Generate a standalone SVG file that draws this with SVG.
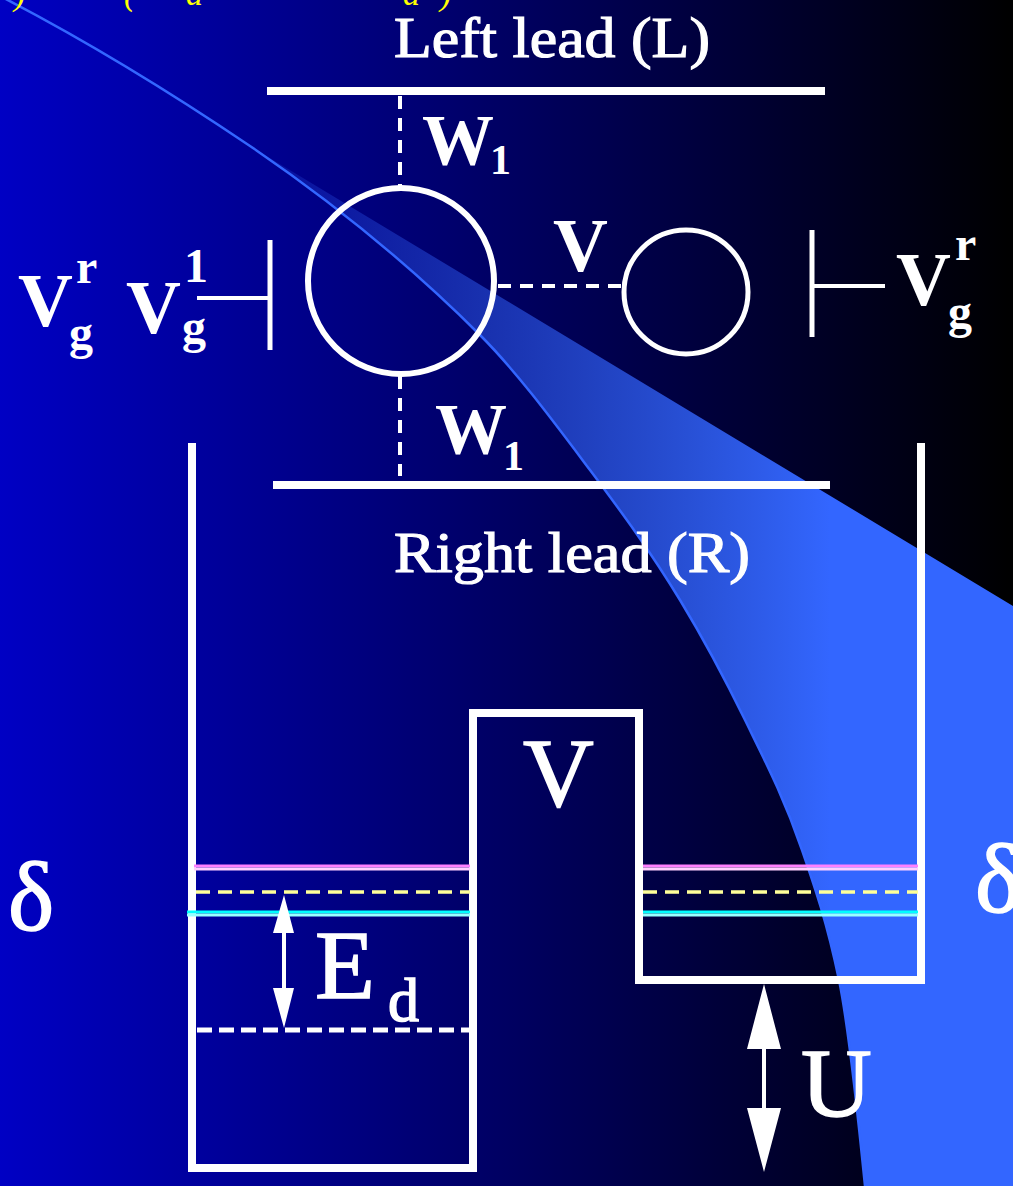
<svg xmlns="http://www.w3.org/2000/svg" width="1013" height="1186" viewBox="0 0 1013 1186">
<defs>
<linearGradient id="bg" x1="0" y1="0" x2="1" y2="0"><stop offset="0" stop-color="#0000c4"/><stop offset="1" stop-color="#000000"/></linearGradient>
<linearGradient id="wedge" gradientUnits="userSpaceOnUse" x1="250" y1="0" x2="830" y2="0"><stop offset="0" stop-color="#3366ff" stop-opacity="0.12"/><stop offset="1" stop-color="#3366ff"/></linearGradient>
</defs>
<style>
.t{font-family:"Liberation Serif",serif;fill:#fff;font-weight:bold}
.n{font-family:"Liberation Serif",serif;fill:#fff;stroke:#fff;stroke-width:1.500}
.h{font-family:"Liberation Serif",serif;fill:#fff;stroke:#fff;stroke-width:1.200}
.y{font-family:"Liberation Serif",serif;fill:#ff0;font-style:italic;font-size:34px}
.l{stroke:#fff;fill:none}
.d{stroke:#fff;fill:none;stroke-dasharray:13 9}
.a{fill:#fff}
</style>
<rect width="1013" height="1186" fill="url(#bg)"/>
<path d="M250 146L1013 606V1186H865C856.300 1099 847.700 1021.700 839 980C826.700 921 814.300 885.700 802 850C783 795 764 759 745 720C723.300 675.500 701.700 635.800 680 600C650 550.500 620 510 590 470C553.300 421.200 516.700 371.700 480 335C403.300 258.300 326.700 198.100 250 146Z" fill="url(#wedge)"/>
<path d="M0 -4C85 40 170 92 250 146C326.700 198.100 403.300 258.300 480 335C516.700 371.700 553.300 421.200 590 470C620 510 650 550.500 680 600C701.700 635.800 723.300 675.500 745 720C764 759 783 795 802 850C814.300 885.700 826.700 921 839 980C847.700 1021.700 856.300 1099 865 1186" fill="none" stroke="#3366ff" stroke-width="2.500"/>
<g id="top-formula">
<text class="y" x="14" y="5">)</text><text class="y" x="124" y="5">(</text><text class="y" x="186" y="5">d</text><text class="y" x="403" y="5">d</text><text class="y" x="440" y="5">)</text>
</g>
<g id="connectors">
<path class="d" stroke-width="4" d="M400 96V186"/>
<path class="d" stroke-width="4" d="M400 376V476"/>
<path class="d" stroke-width="4" d="M498 286H622"/>
<path class="l" stroke-width="4" d="M197 298H270"/>
<path class="l" stroke-width="4" d="M812 286H885"/>
</g>
<g id="left-lead"><path class="l" stroke-width="8" d="M267 91H825"/><text class="h" x="394" y="57" font-size="58" textLength="316" lengthAdjust="spacingAndGlyphs">Left lead (L)</text></g>
<g id="right-lead"><path class="l" stroke-width="8" d="M273 485H830"/><text class="h" x="394" y="572" font-size="58" textLength="356" lengthAdjust="spacingAndGlyphs">Right lead (R)</text></g>
<g id="dot-left"><circle class="l" stroke-width="6" cx="401" cy="281" r="93"/></g>
<g id="dot-right"><circle class="l" stroke-width="5" cx="686" cy="292" r="62"/></g>
<g id="gate-left"><path class="l" stroke-width="5" d="M270 240V350"/>
<text class="t" x="126" y="333" font-size="76">V</text><text class="t" x="182" y="343" font-size="48">g</text><text class="t" x="184" y="282" font-size="48">1</text></g>
<g id="gate-left-r"><text class="t" x="18" y="326" font-size="76">V</text><text class="t" x="69" y="349" font-size="48">g</text><text class="t" x="76" y="283" font-size="48">r</text></g>
<g id="gate-right"><path class="l" stroke-width="5" d="M812 230V337"/>
<text class="t" x="896" y="305" font-size="76">V</text><text class="t" x="948" y="328" font-size="48">g</text><text class="t" x="955" y="260" font-size="48">r</text></g>
<g id="labels-w"><text class="t" x="422" y="164" font-size="72">W</text><text class="t" x="490" y="174" font-size="42">1</text>
<text class="t" x="435" y="453" font-size="72">W</text><text class="t" x="503" y="470" font-size="42">1</text>
<text class="t" x="553" y="271" font-size="76">V</text></g>
<g id="well">
<path class="l" stroke-width="8" d="M192 443V1168H473V713H639V980H921V443"/>
<g id="levels">
<path d="M194 866H470M643 866H918" stroke="#ff80ff" stroke-width="3"/><path d="M194 869H470M643 869H918" stroke="#ffd0ff" stroke-width="3"/>
<path d="M196 892H470M643 892H918" stroke="#ffff99" stroke-width="3.500" stroke-dasharray="14 8"/>
<path d="M187 912H470M643 912H918" stroke="#00ffff" stroke-width="3"/><path d="M187 915H470M643 915H918" stroke="#99ffff" stroke-width="3"/>
<path d="M197 1030H470" stroke="#fff" stroke-width="5" stroke-dasharray="15 7"/>
</g>
<path class="l" stroke-width="4" d="M284 930V990"/>
<path class="a" d="M284 895L294 933H273ZM284 1028L273 988H294Z"/>
<path class="l" stroke-width="4" d="M764 1045V1112"/>
<path class="a" d="M764 984L781 1049H747ZM764 1172L747 1108H781Z"/>
<text class="n" x="523" y="806" font-size="98">V</text>
<text class="n" x="315" y="998" font-size="98">E</text><text class="n" x="388" y="1021" font-size="62">d</text>
<text class="n" x="801" y="1116" font-size="98">U</text>
<text class="n" x="8" y="930" font-size="98">δ</text>
<text class="n" x="975" y="912" font-size="98">δ</text>
</g>
</svg>
